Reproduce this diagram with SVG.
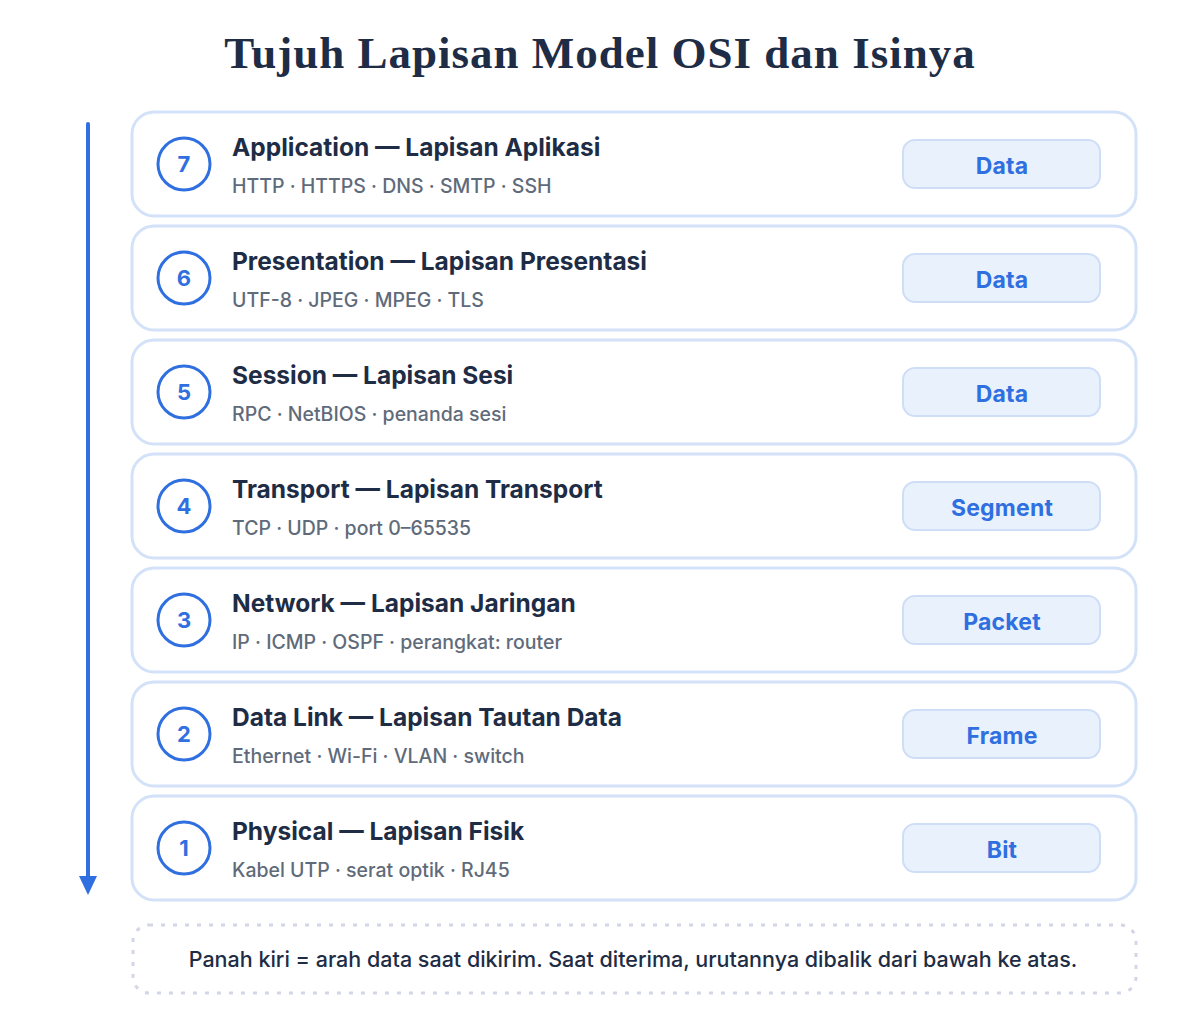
<svg xmlns="http://www.w3.org/2000/svg" width="1200" height="1016" viewBox="0 0 1200 1016">
<style>
.card{fill:#ffffff;stroke:#d3e2f9;stroke-width:3}
.num{fill:#ffffff;stroke:#2f6fe0;stroke-width:3}
.numt{font-family:Inter,"Noto Sans",sans-serif;font-weight:700;font-size:22px;fill:#2f6fe0;text-anchor:middle}
.ttl{font-family:Inter,"Noto Sans",sans-serif;font-weight:700;font-size:24.5px;fill:#1e2d45}
.sub{font-family:Inter,"Noto Sans",sans-serif;font-weight:500;font-size:19.5px;fill:#5f6b7a}
.badge{fill:#e9f1fd;stroke:#cfdef7;stroke-width:2}
.bt{font-family:Inter,"Noto Sans",sans-serif;font-weight:700;font-size:23px;fill:#2f6fe0;text-anchor:middle;letter-spacing:0.2px}
</style>
<rect width="1200" height="1016" fill="#ffffff"/>
<text x="600" y="68" text-anchor="middle" font-family="'Liberation Serif',serif" font-weight="700" font-size="45" letter-spacing="1" fill="#1e2d45">Tujuh Lapisan Model OSI dan Isinya</text>
<g id="connectors">
<line x1="88" y1="124" x2="88" y2="876" stroke="#2f6fe0" stroke-width="4" stroke-linecap="round"/>
<path d="M79,876 L97,876 L88,895 Z" fill="#2f6fe0"/>
</g>
<g id="layer7">
<rect class="card" x="132" y="112" width="1004" height="104" rx="22"/>
<circle class="num" cx="184" cy="164" r="26"/>
<text class="numt" x="184" y="172">7</text>
<text class="ttl" x="232" y="156">Application — Lapisan Aplikasi</text>
<text class="sub" x="232" y="193">HTTP · HTTPS · DNS · SMTP · SSH</text>
<rect class="badge" x="903" y="140" width="197" height="48" rx="12"/>
<text class="bt" x="1002" y="174">Data</text>
</g>
<g id="layer6">
<rect class="card" x="132" y="226" width="1004" height="104" rx="22"/>
<circle class="num" cx="184" cy="278" r="26"/>
<text class="numt" x="184" y="286">6</text>
<text class="ttl" x="232" y="270">Presentation — Lapisan Presentasi</text>
<text class="sub" x="232" y="307">UTF-8 · JPEG · MPEG · TLS</text>
<rect class="badge" x="903" y="254" width="197" height="48" rx="12"/>
<text class="bt" x="1002" y="288">Data</text>
</g>
<g id="layer5">
<rect class="card" x="132" y="340" width="1004" height="104" rx="22"/>
<circle class="num" cx="184" cy="392" r="26"/>
<text class="numt" x="184" y="400">5</text>
<text class="ttl" x="232" y="384">Session — Lapisan Sesi</text>
<text class="sub" x="232" y="421">RPC · NetBIOS · penanda sesi</text>
<rect class="badge" x="903" y="368" width="197" height="48" rx="12"/>
<text class="bt" x="1002" y="402">Data</text>
</g>
<g id="layer4">
<rect class="card" x="132" y="454" width="1004" height="104" rx="22"/>
<circle class="num" cx="184" cy="506" r="26"/>
<text class="numt" x="184" y="514">4</text>
<text class="ttl" x="232" y="498">Transport — Lapisan Transport</text>
<text class="sub" x="232" y="535">TCP · UDP · port 0–65535</text>
<rect class="badge" x="903" y="482" width="197" height="48" rx="12"/>
<text class="bt" x="1002" y="516">Segment</text>
</g>
<g id="layer3">
<rect class="card" x="132" y="568" width="1004" height="104" rx="22"/>
<circle class="num" cx="184" cy="620" r="26"/>
<text class="numt" x="184" y="628">3</text>
<text class="ttl" x="232" y="612">Network — Lapisan Jaringan</text>
<text class="sub" x="232" y="649">IP · ICMP · OSPF · perangkat: router</text>
<rect class="badge" x="903" y="596" width="197" height="48" rx="12"/>
<text class="bt" x="1002" y="630">Packet</text>
</g>
<g id="layer2">
<rect class="card" x="132" y="682" width="1004" height="104" rx="22"/>
<circle class="num" cx="184" cy="734" r="26"/>
<text class="numt" x="184" y="742">2</text>
<text class="ttl" x="232" y="726">Data Link — Lapisan Tautan Data</text>
<text class="sub" x="232" y="763">Ethernet · Wi-Fi · VLAN · switch</text>
<rect class="badge" x="903" y="710" width="197" height="48" rx="12"/>
<text class="bt" x="1002" y="744">Frame</text>
</g>
<g id="layer1">
<rect class="card" x="132" y="796" width="1004" height="104" rx="22"/>
<circle class="num" cx="184" cy="848" r="26"/>
<text class="numt" x="184" y="856">1</text>
<text class="ttl" x="232" y="840">Physical — Lapisan Fisik</text>
<text class="sub" x="232" y="877">Kabel UTP · serat optik · RJ45</text>
<rect class="badge" x="903" y="824" width="197" height="48" rx="12"/>
<text class="bt" x="1002" y="858">Bit</text>
</g>
<g id="note">
<rect x="133" y="925" width="1003" height="68" rx="16" fill="#ffffff" stroke="#d3d6e6" stroke-width="3" stroke-dasharray="4 8"/>
<text x="633" y="967" text-anchor="middle" font-family="Inter,'Noto Sans',sans-serif" font-weight="500" font-size="21.5" fill="#1e2d45">Panah kiri = arah data saat dikirim. Saat diterima, urutannya dibalik dari bawah ke atas.</text>
</g>
</svg>
